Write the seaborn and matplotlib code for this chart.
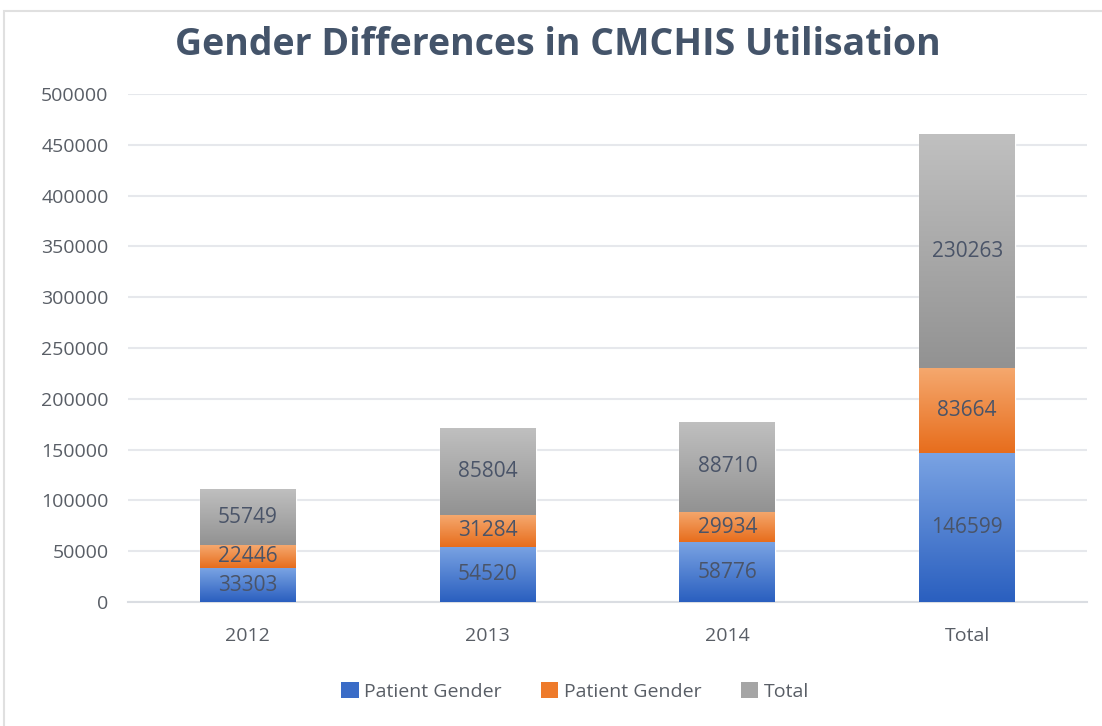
import numpy as np
import pandas as pd
import seaborn as sns
import matplotlib.pyplot as plt
from matplotlib.patches import Patch, Rectangle
from matplotlib.colors import LinearSegmentedColormap

# Data
categories = ['2012', '2013', '2014', 'Total']
male = [33303, 54520, 58776, 146599]
female = [22446, 31284, 29934, 83664]
total = [55749, 85804, 88710, 230263]
series_names = ['Patient Gender', 'Patient Gender', 'Total']

# top / bottom colours for the Excel-like gradient fills
grad = [('#7aa3e3', '#2a5fbf'), ('#f5a86e', '#e76d1c'), ('#c0c0c0', '#929292')]
solid = ['#3a6cc7', '#ee7a2a', '#a5a5a5']

sns.set_style('white')
plt.rcParams['font.family'] = ['Open Sans', 'DejaVu Sans']

fig = plt.figure(figsize=(11.02, 7.26), dpi=100)
ax = fig.add_axes([0.1162, 0.1708, 0.8702, 0.6997])

df = pd.DataFrame({'Year': categories, 'male': male, 'female': female, 'total': total})
bottoms = [np.zeros(len(df)), df['male'].values, (df['male'] + df['female']).values]
cols = ['male', 'female', 'total']

for col, bot, c in zip(cols, bottoms, solid):
    sns.barplot(data=df, x='Year', y=col, bottom=bot, color=c, width=0.4,
                saturation=1, ax=ax, zorder=2)

# gradient overlay on each bar segment
n = len(categories)
for i, p in enumerate(ax.patches):
    top_c, bot_c = grad[i // n]
    cmap = LinearSegmentedColormap.from_list('g', [bot_c, top_c])
    x0, y0 = p.get_x(), p.get_y()
    w, h = p.get_width(), p.get_height()
    im = ax.imshow(np.linspace(0, 1, 256).reshape(-1, 1), cmap=cmap, origin='lower',
                   extent=[x0, x0 + w, y0, y0 + h], aspect='auto', zorder=3)
    im.set_clip_path(p)
    cx = x0 + w / 2
    ax.text(cx, y0 + h / 2, f'{int(round(h))}', ha='center', va='center',
            fontsize=15, color='#4a5468', zorder=4)

ax.set_xlim(-0.5, 3.5)
ax.set_ylim(0, 500000)
ax.set_yticks(np.arange(0, 500001, 50000))
ax.set_yticklabels([str(v) for v in range(0, 500001, 50000)])
ax.grid(axis='y', color='#e6e8ec', lw=1.5, zorder=0)
ax.set_axisbelow(True)
for s in ['top', 'right', 'left']:
    ax.spines[s].set_visible(False)
ax.spines['bottom'].set_color('#dadde2')
ax.spines['bottom'].set_linewidth(1.5)
ax.tick_params(axis='both', length=0, labelsize=14, labelcolor='#595e66')
ax.tick_params(axis='y', pad=14)
ax.tick_params(axis='x', pad=18)
ax.set_xlabel('')
ax.set_ylabel('')

fig.text(0.506, 0.938, 'Gender Differences in CMCHIS Utilisation', ha='center', va='center',
         fontsize=27, fontweight='bold', color='#44546a')

handles = [Patch(facecolor=c, edgecolor='none') for c in solid]
fig.legend(handles, series_names, loc='center', bbox_to_anchor=(0.522, 0.048), ncol=3,
           frameon=False, fontsize=14, labelcolor='#595e66', handlelength=0.9,
           handleheight=0.9, handletextpad=0.3, columnspacing=2.0)

fig.patches.append(Rectangle((0.004, -0.01), 1.0, 0.995, transform=fig.transFigure,
                             fill=False, edgecolor='#e0e0e0', lw=1.5))

fig.savefig('out.png', dpi=100)
